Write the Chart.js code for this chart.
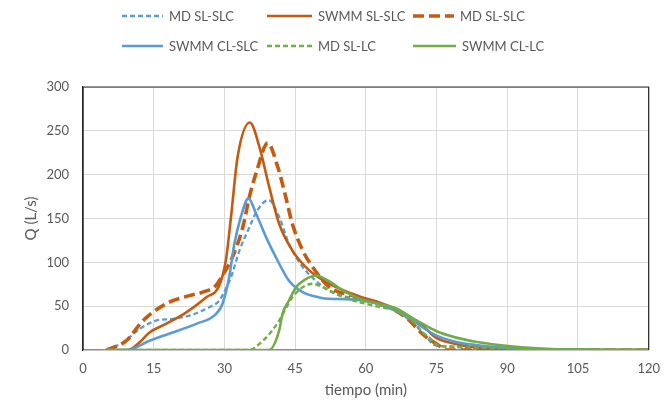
<!DOCTYPE html>
<html>
<head>
<meta charset="utf-8">
<script src="https://cdn.jsdelivr.net/npm/chart.js@4/dist/chart.umd.min.js"></script>
<style>
  html, body { margin: 0; padding: 0; background: #fff; }
  #wrap { position: relative; width: 671px; height: 400px; font-family: Lato, sans-serif; }
  #chart { position: absolute; left: 0; top: 0; }
  .leg { position: absolute; display: flex; align-items: center; font-size: 13px; color: #595959; white-space: nowrap; }
  .leg svg { margin-right: 6px; }
</style>
</head>
<body>
<div id="wrap">
  <canvas id="chart" width="671" height="400"></canvas>
  <div id="legend"></div>
</div>
<script>
// --- data (time in min, flow in L/s) ---
const seriesNames = ['MD SL-SLC', 'SWMM SL-SLC', 'MD SL-SLC', 'SWMM CL-SLC', 'MD SL-LC', 'SWMM CL-LC'];

const mdBlueT = [5, 8.5, 12, 15.5, 19, 22.6, 26.8, 28.9, 30.3, 31.4, 33.2, 35.3, 37, 39.4, 41.6, 43.7, 46.6, 49.4, 52.2, 55.7, 59.3, 63, 66.3, 69.5, 72.7, 74.1, 76, 79, 85, 95, 120];
const mdBlueQ = [0, 8.7, 24, 33.5, 35.5, 39.3, 48.8, 56.4, 70, 83, 113.7, 140, 159.5, 171, 152, 121, 94.6, 79, 68, 61, 58.4, 53, 45, 33, 16.4, 6.9, 4.5, 3.5, 1.5, 0.5, 0];

const swmmOrangeT = [5, 9.5, 12, 14.1, 17.6, 21.9, 26.1, 28.9, 30.3, 31.4, 32.8, 35.4, 37.4, 39.5, 41.6, 44.4, 48, 52.2, 55.7, 59.3, 63, 66.3, 69, 72, 74.8, 79, 83.3, 90, 100, 120];
const swmmOrangeQ = [0, 0, 8.7, 20, 29.8, 43, 60, 73.6, 102, 152, 220.5, 259.5, 232, 186, 144, 113.7, 90.8, 75.6, 67, 60, 54, 47, 39, 28, 14.4, 6.9, 3, 1, 0.3, 0];

const mdOrangeT = [5, 9.2, 12.4, 14.8, 18.3, 22.6, 25.4, 28.2, 29.6, 31.7, 33.9, 35.3, 36.7, 39.2, 41.3, 43, 44.4, 46.6, 48.7, 52.2, 57.1, 62, 66.3, 69, 72, 75.5, 77, 120];
const mdOrangeQ = [0, 10.6, 31.6, 43, 54.5, 62, 66, 73.6, 85, 106, 140, 174.7, 201.5, 236, 209, 174.7, 144, 113.7, 94.6, 72, 62, 54, 45, 35, 18.3, 5, 0, 0];

const swmmBlueT = [5, 9.5, 14.1, 19, 24, 28.2, 29.6, 31, 32.1, 33.5, 35.1, 36.7, 38.8, 40.9, 43.7, 46.6, 50.1, 52.2, 55.5, 59.3, 63, 66.3, 69, 72, 74.8, 79, 83.3, 88.2, 95, 105, 120];
const swmmBlueQ = [0, 0, 10.6, 20, 29.8, 41, 52.7, 83, 121, 152, 173, 155.7, 129, 106, 79, 66, 60, 58.4, 58, 56.5, 52, 45, 37, 26, 17, 9.5, 5.7, 3, 1, 0.3, 0];

const mdGreenT = [5, 35.3, 37.4, 39.5, 41.6, 44.4, 46.2, 48.7, 50.8, 53.6, 57, 60, 63, 66.3, 69.8, 72, 73.4, 75.5, 77.6, 85, 90, 100, 120];
const mdGreenQ = [0, 0, 6.9, 18, 33.5, 60, 70, 75.6, 71.7, 64, 57, 52.7, 49, 45, 33.5, 20, 14.4, 4.9, 4, 2.5, 2, 0.5, 0];

const swmmGreenT = [5, 39.5, 41.6, 42.3, 43.7, 45.2, 47, 49.5, 52, 55.7, 59, 62.8, 64.9, 66.6, 69.1, 72, 74.8, 79, 83.3, 88.2, 93.1, 99.4, 110, 120];
const swmmGreenQ = [0, 0, 22, 41, 56.5, 71.7, 80, 85, 79, 66, 58, 52.7, 50, 47, 39, 30, 22, 14.4, 9.5, 5.7, 3, 1, 0.3, 0];

const xTicks = [0, 15, 30, 45, 60, 75, 90, 105, 120];
const yTicks = [0, 50, 100, 150, 200, 250, 300];

// --- styling ---
const BLUE = '#5b9bd5', ORANGE = '#c55a11', GREEN = '#70ad47';
const styles = [
  { color: BLUE, width: 2.3, dash: [5, 3] },
  { color: ORANGE, width: 2.6, dash: [] },
  { color: ORANGE, width: 3.6, dash: [11, 5] },
  { color: BLUE, width: 2.6, dash: [] },
  { color: GREEN, width: 2.4, dash: [5, 3] },
  { color: GREEN, width: 2.6, dash: [] }
];
const seriesT = [mdBlueT, swmmOrangeT, mdOrangeT, swmmBlueT, mdGreenT, swmmGreenT];
const seriesQ = [mdBlueQ, swmmOrangeQ, mdOrangeQ, swmmBlueQ, mdGreenQ, swmmGreenQ];

const datasets = seriesNames.map((name, i) => ({
  label: name,
  data: seriesT[i].map((t, k) => ({ x: t, y: seriesQ[i][k] })),
  borderColor: styles[i].color,
  borderWidth: styles[i].width,
  borderDash: styles[i].dash,
  pointRadius: 0,
  fill: false,
  cubicInterpolationMode: 'monotone',
  order: seriesNames.length - i
}));

// legend as html, laid out in a fixed grid like the original
const legendPos = [
  { x: 122, y: 16, len: 41 }, { x: 267, y: 16, len: 45 }, { x: 413, y: 16, len: 41 },
  { x: 122, y: 46, len: 41 }, { x: 267, y: 46, len: 45 }, { x: 413, y: 46, len: 43 }
];
const legendEl = document.getElementById('legend');
seriesNames.forEach((name, i) => {
  const p = legendPos[i], s = styles[i];
  const item = document.createElement('div');
  item.className = 'leg';
  item.style.left = p.x + 'px';
  item.style.top = (p.y - 9) + 'px';
  item.style.height = '18px';
  item.innerHTML = '<svg width="' + p.len + '" height="8"><line x1="0" y1="4" x2="' + p.len + '" y2="4" stroke="' + s.color +
    '" stroke-width="' + s.width + '" stroke-dasharray="' + (s.dash.length ? s.dash.join(',') : 'none') + '"/></svg>' +
    '<span>' + name + '</span>';
  legendEl.appendChild(item);
});

const frame = {
  id: 'frame',
  afterDraw(chart) {
    const a = chart.chartArea, ctx = chart.ctx;
    ctx.save();
    ctx.strokeStyle = '#262626';
    ctx.lineWidth = 1.2;
    ctx.beginPath();
    ctx.moveTo(a.left, a.bottom);
    ctx.lineTo(a.left, a.top);
    ctx.lineTo(a.right, a.top);
    ctx.lineTo(a.right, a.bottom);
    ctx.stroke();
    ctx.restore();
  }
};

const tickFont = { family: 'Lato', size: 13 };
const titleFont = { family: 'Lato', size: 15 };
new Chart(document.getElementById('chart'), {
  type: 'line',
  data: { datasets },
  plugins: [frame],
  options: {
    responsive: false,
    animation: false,
    devicePixelRatio: 1,
    layout: { padding: { top: 87, right: 21, left: 0, bottom: 0 } },
    plugins: { legend: { display: false }, tooltip: { enabled: false } },
    scales: {
      x: {
        type: 'linear', min: 0, max: 120,
        afterBuildTicks: s => { s.ticks = xTicks.map(v => ({ value: v })); },
        afterFit: s => { s.height = 50; },
        ticks: { color: '#595959', font: tickFont, padding: 11, maxRotation: 0 },
        grid: { color: '#d9d9d9', drawTicks: false },
        border: { color: '#8c8c8c', width: 1.2 },
        title: { display: true, text: 'tiempo (min)', color: '#595959', font: titleFont, padding: { top: 4, bottom: 1 } }
      },
      y: {
        min: 0, max: 300,
        afterBuildTicks: s => { s.ticks = yTicks.map(v => ({ value: v })); },
        afterFit: s => { s.width = 83; },
        ticks: { color: '#595959', font: tickFont, padding: 14 },
        grid: { color: '#d9d9d9', drawTicks: false },
        border: { color: '#262626', width: 1.2 },
        title: { display: true, text: 'Q (L/s)', color: '#595959', font: titleFont, padding: { top: 22, bottom: 0 } }
      }
    }
  }
});
</script>
</body>
</html>
